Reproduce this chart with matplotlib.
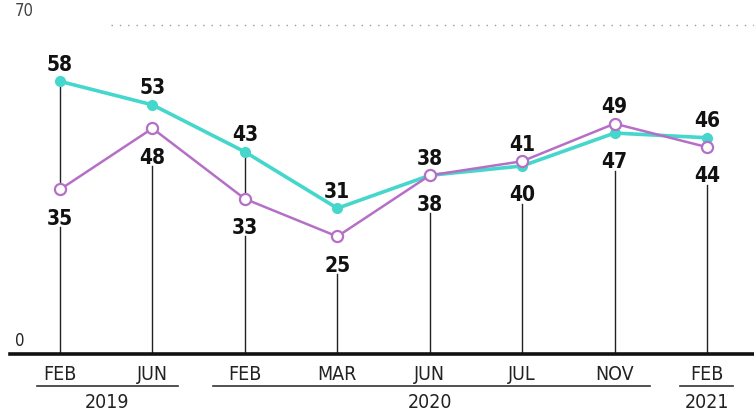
import matplotlib
matplotlib.use("Agg")
import matplotlib.pyplot as plt
import matplotlib.transforms as mtransforms

plt.rcParams["font.family"] = ["DejaVu Sans"]
plt.rcParams["font.stretch"] = "condensed"

# ── DATA ────────────────────────────────────────────────────────────────
months = ["FEB", "JUN", "FEB", "MAR", "JUN", "JUL", "NOV", "FEB"]
teal_vals = [58, 53, 43, 31, 38, 40, 47, 46]
purple_vals = [35, 48, 33, 25, 38, 41, 49, 44]
# year groups: (label, first index, last index, underline from, underline to)
year_groups = [("2019", 0, 1, -0.25, 1.28),
               ("2020", 2, 6, 1.65, 6.38),
               ("2021", 7, 7, 6.71, 7.28)]
year_centers = [0.51, 4.0, 7.0]

TEAL = "#45d6cc"
PURPLE = "#b56fc6"

fig = plt.figure(figsize=(7.54, 4.17), dpi=100, facecolor="white")
ax = fig.add_axes([10 / 754, 63 / 417, 744 / 754, 354 / 417])
ax.set_xlim(-0.541, 7.508)
ax.set_ylim(0, 75.3)
ax.patch.set_alpha(0)

for sp in ("top", "left", "right"):
    ax.spines[sp].set_visible(False)
ax.spines["bottom"].set_linewidth(2.6)
ax.spines["bottom"].set_color("#111111")
ax.spines["bottom"].set_zorder(5)
ax.set_yticks([])

ax.set_xticks(range(len(months)))
ax.set_xticklabels(months, fontsize=14, color="#222222")
ax.tick_params(axis="x", length=0, pad=8)

# faint dotted gridline at 70
ax.plot([0.55, 7.508], [70, 70], color="#999999", lw=1, ls=(0, (1, 5)), zorder=0)
ax.text(-0.49, 71.0, "70", fontsize=12, color="#444444", ha="left", va="bottom")
ax.text(-0.49, 0.8, "0", fontsize=12, color="#222222", ha="left", va="bottom")

# stems
for i, (t, p) in enumerate(zip(teal_vals, purple_vals)):
    lo, hi = min(t, p), max(t, p)
    ax.plot([i, i], [0, lo - 8], color="#222222", lw=1, zorder=1)
    if i in (0, 2):
        ax.plot([i, i], [lo, hi], color="#222222", lw=1, zorder=1)

x = list(range(len(months)))
ax.plot(x, teal_vals, color=TEAL, lw=2.6, marker="o", ms=7,
        mfc=TEAL, mec=TEAL, zorder=3)
ax.plot(x, purple_vals, color=PURPLE, lw=1.8, marker="o", ms=8,
        mfc="white", mec=PURPLE, mew=1.6, zorder=4)

# value labels
for i, (t, p) in enumerate(zip(teal_vals, purple_vals)):
    top, bot = max(t, p), min(t, p)
    ax.annotate(str(top), (i, top), xytext=(0, 12), textcoords="offset points",
                ha="center", va="center", fontsize=15, fontweight="bold",
                color="#111111", zorder=6)
    ax.annotate(str(bot), (i, bot), xytext=(0, -21), textcoords="offset points",
                ha="center", va="center", fontsize=15, fontweight="bold",
                color="#111111", zorder=6)

# year underlines and labels
trans = mtransforms.blended_transform_factory(ax.transData, fig.transFigure)
for (label, a, b, x0, x1), xc in zip(year_groups, year_centers):
    ax.plot([x0, x1], [1 - 386 / 417] * 2, transform=trans, color="#333333",
            lw=1.2, clip_on=False)
    ax.text(xc, 1 - 403 / 417, label, transform=trans, ha="center",
            va="center", fontsize=14, color="#222222")

fig.savefig("out.png", dpi=100, facecolor="white")
